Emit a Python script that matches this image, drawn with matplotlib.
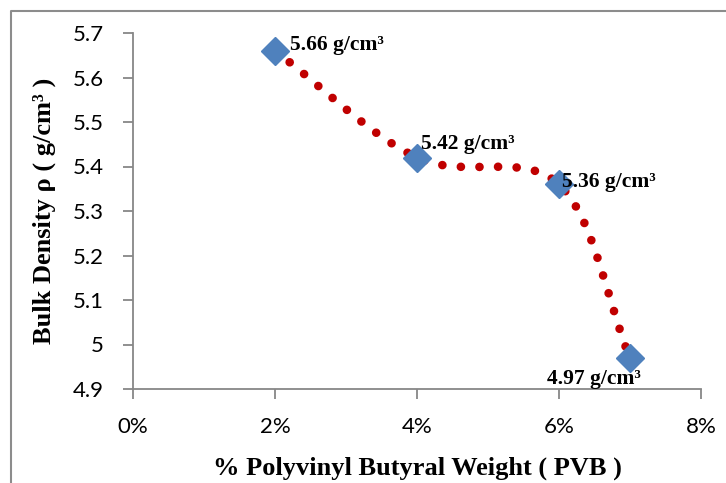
import matplotlib
matplotlib.use("Agg")
import matplotlib.pyplot as plt
import numpy as np
from matplotlib.lines import Line2D
from matplotlib.patches import PathPatch
from matplotlib.path import Path
from matplotlib.ticker import FuncFormatter

# data
pvb_pct = [2, 4, 6, 7]
density = [5.66, 5.42, 5.36, 4.97]
point_labels = ["5.66 g/cm³", "5.42 g/cm³", "5.36 g/cm³", "4.97 g/cm³"]

x_ticks = [0, 2, 4, 6, 8]
y_ticks = [4.9, 5.0, 5.1, 5.2, 5.3, 5.4, 5.5, 5.6, 5.7]

SERIF = "Liberation Serif"
SANS = "Lato"
GRAY = "#878787"


def smooth_path(xs, ys):
    """Catmull-Rom style bezier through the points (like Excel's smoothed line)."""
    pts = np.column_stack([xs, ys]).astype(float)
    # phantom end points by reflection
    first = 2 * pts[0] - pts[1]
    last = 2 * pts[-1] - pts[-2]
    ext = np.vstack([first, pts, last])
    verts = [tuple(pts[0])]
    codes = [Path.MOVETO]
    for i in range(1, len(ext) - 2):
        p0, p1, p2, p3 = ext[i - 1], ext[i], ext[i + 1], ext[i + 2]
        c1 = p1 + (p2 - p0) / 6.0
        c2 = p2 - (p3 - p1) / 6.0
        verts += [tuple(c1), tuple(c2), tuple(p2)]
        codes += [Path.CURVE4] * 3
    return Path(verts, codes)


fig = plt.figure(figsize=(7.26, 4.83), dpi=100)
ax = fig.add_axes([133 / 726, 1 - 389 / 483, (701 - 133) / 726, (389 - 33) / 483])

curve = PathPatch(smooth_path(pvb_pct, density), facecolor="none", edgecolor="#C00000",
                  linewidth=6.2, linestyle=(0, (0.01, 2.15)), capstyle="round", zorder=2)
ax.add_patch(curve)

ax.plot(pvb_pct, density, linestyle="none", marker="D", markersize=14,
        markerfacecolor="#4F81BD", markeredgecolor="#4F81BD", zorder=3)

offsets = [(10.5, 4.5, "left"), (3, 10, "left"), (2, 1.5, "left"), (-26, -15.5, "center")]
for x, y, lab, (dx, dy, ha) in zip(pvb_pct, density, point_labels, offsets):
    ax.annotate(lab, (x, y), xytext=(dx, dy), textcoords="offset points",
                ha=ha, va="center", fontsize=15.5, fontweight="bold", family=SERIF, zorder=4)

ax.set_xlim(0, 8)
ax.set_ylim(4.9, 5.7)
ax.set_xticks(x_ticks)
ax.set_yticks(y_ticks)
ax.xaxis.set_major_formatter(FuncFormatter(lambda v, p: f"{v:.0f}%"))
ax.yaxis.set_major_formatter(FuncFormatter(lambda v, p: f"{v:g}"))

for side in ["top", "right"]:
    ax.spines[side].set_visible(False)
for side in ["left", "bottom"]:
    ax.spines[side].set_color(GRAY)
    ax.spines[side].set_linewidth(1.3)

ax.tick_params(axis="both", direction="out", length=7, width=1.3, color=GRAY,
               labelsize=16, labelcolor="black")
ax.tick_params(axis="x", pad=13)
ax.tick_params(axis="y", pad=14)
for lbl in ax.get_xticklabels() + ax.get_yticklabels():
    lbl.set_family(SANS)

ax.set_xlabel("% Polyvinyl Butyral Weight ( PVB )", fontsize=19, fontweight="bold",
              family=SERIF, labelpad=14)
ax.set_ylabel("Bulk Density ρ ( g/cm³ )", fontsize=19, fontweight="bold",
              family=SERIF, labelpad=12)

# chart area border (only left and top visible in the crop)
fig.add_artist(Line2D([11 / 726, 11 / 726, 1], [0, 1 - 11 / 483, 1 - 11 / 483],
                      transform=fig.transFigure, color="#8C8C8C", linewidth=1.5))

fig.savefig("out.png", dpi=100)
